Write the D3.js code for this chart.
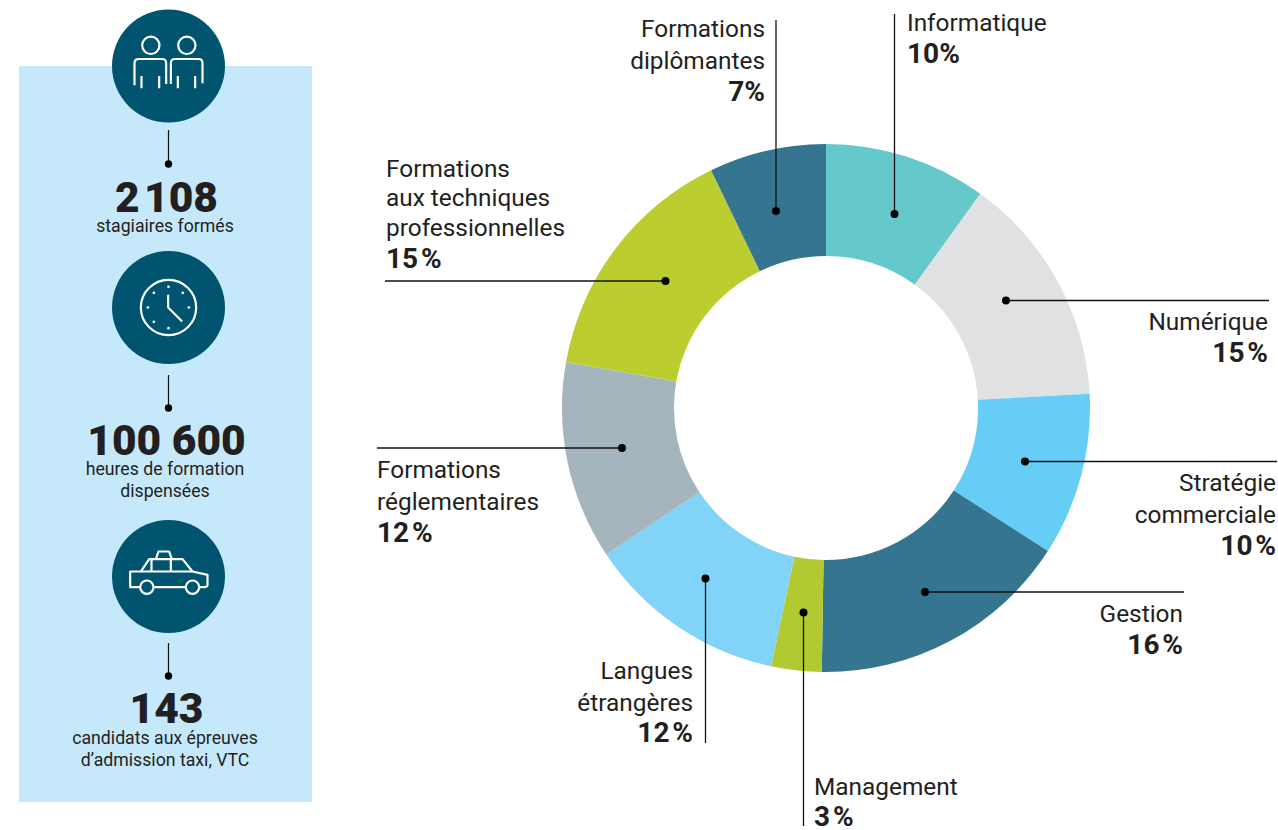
<!DOCTYPE html>
<html lang="fr">

<head>
    <meta charset="UTF-8">
    <title>Formations par domaine</title>
    <script src="https://d3js.org/d3.v7.min.js"></script>
    <style>
        body { margin: 0; background: #fff; }
        svg { display: block; }
        text { font-family: Roboto, sans-serif; fill: #231f20; }
    </style>
</head>

<body>
    <div id="chart"></div>

    <script>
        // donut data, clockwise from the top
        const categories = [
            ["Informatique"],
            ["Numérique"],
            ["Stratégie", "commerciale"],
            ["Gestion"],
            ["Management"],
            ["Langues", "étrangères"],
            ["Formations", "réglementaires"],
            ["Formations", "aux techniques", "professionnelles"],
            ["Formations", "diplômantes"]
        ];
        // slice shares as measured on the picture, the printed labels are rounded
        const values = [9.94, 14.21, 9.97, 16.14, 3.08, 12.31, 12.14, 15.05, 7.17];
        const valueLabels = ["10%", "15\u200a%", "10\u200a%", "16\u200a%", "3\u200a%", "12\u200a%", "12\u200a%", "15\u200a%", "7%"];

        // left panel figures
        const statNumbers = ["2\u200a108", "100 600", "143"];
        const statCaptions = [
            ["stagiaires formés"],
            ["heures de formation", "dispensées"],
            ["candidats aux épreuves", "d’admission taxi, VTC"]
        ];

        const sliceColors = ["#65c8cb", "#e0e1e3", "#66cef6", "#357590", "#b2c932", "#81d3f8", "#a4b5bd", "#bccd2f", "#357590"];

        // label and leader placement, same order as categories
        const labelLayout = [
            { anchor: "start", x: 907, y: [31, 63] },
            { anchor: "end", x: 1268, y: [330, 362] },
            { anchor: "end", x: 1276, y: [491, 523, 555] },
            { anchor: "end", x: 1183, y: [622, 654] },
            { anchor: "start", x: 814, y: [795, 826] },
            { anchor: "end", x: 693, y: [679, 711, 742] },
            { anchor: "start", x: 377, y: [478, 510, 542] },
            { anchor: "start", x: 386, y: [177, 206, 236, 268] },
            { anchor: "end", x: 765, y: [37, 69, 101] }
        ];
        const leaderLayout = [
            { from: [894.5, 214], to: [894.5, 14] },
            { from: [1006, 300.5], to: [1269, 300.5] },
            { from: [1025, 461.5], to: [1277, 461.5] },
            { from: [925, 592], to: [1184, 592] },
            { from: [803.5, 612.5], to: [803.5, 826] },
            { from: [705.5, 578.5], to: [705.5, 743] },
            { from: [622, 448], to: [377, 448] },
            { from: [665.5, 281], to: [385, 281] },
            { from: [776, 211], to: [776, 20] }
        ];

        const width = 1278;
        const height = 830;
        const center = [826, 408];
        const outerRadius = 264;
        const innerRadius = 152;

        const svg = d3.select("#chart")
            .append("svg")
            .attr("width", width)
            .attr("height", height);

        // left panel
        svg.append("rect")
            .attr("x", 19)
            .attr("y", 66)
            .attr("width", 293)
            .attr("height", 736)
            .attr("fill", "#c5e8fb");

        const panelX = 168.5;
        const statLayout = [
            { cy: 66, lineTop: 130, dot: 164, number: 212, caption: [232] },
            { cy: 307.5, lineTop: 375, dot: 408, number: 455, caption: [475, 497] },
            { cy: 576.5, lineTop: 643, dot: 676, number: 723, caption: [744, 766] }
        ];

        statLayout.forEach((s, i) => {
            svg.append("circle")
                .attr("cx", panelX)
                .attr("cy", s.cy)
                .attr("r", 56.5)
                .attr("fill", "#00546f");
            svg.append("line")
                .attr("x1", panelX).attr("x2", panelX)
                .attr("y1", s.lineTop).attr("y2", s.dot)
                .attr("stroke", "#111")
                .attr("stroke-width", 1.2);
            svg.append("circle")
                .attr("cx", panelX)
                .attr("cy", s.dot)
                .attr("r", 3.7)
                .attr("fill", "#000");
            svg.append("text")
                .attr("x", panelX - 2)
                .attr("y", s.number)
                .attr("text-anchor", "middle")
                .attr("font-size", 42.5)
                .attr("font-weight", 900)
                .text(statNumbers[i]);
            statCaptions[i].forEach((line, k) => {
                svg.append("text")
                    .attr("x", panelX - 3.5)
                    .attr("y", s.caption[k])
                    .attr("text-anchor", "middle")
                    .attr("font-size", 17.7)
                    .text(line);
            });
        });

        // icons, sketched at 3x and scaled down
        function iconGroup(cy, ox, oy) {
            return svg.append("g")
                .attr("transform", `translate(${panelX},${cy}) scale(${1 / 3}) translate(${-ox},${-oy})`)
                .attr("fill", "none")
                .attr("stroke", "#fff")
                .attr("stroke-width", 6.5)
                .attr("stroke-linejoin", "round");
        }

        const people = iconGroup(statLayout[0].cy, 205, 198);
        people.selectAll("circle")
            .data([152, 260])
            .join("circle")
            .attr("cx", d => d)
            .attr("cy", 136)
            .attr("r", 26);
        people.append("path").attr("d", "M103 256V190Q103 177 116 177H185Q198 177 198 190V252M124 228V265M177 228V265");
        people.append("path").attr("d", "M212 252V190Q212 177 225 177H295Q307 177 307 190V250M233 228V265M285 228V265");

        const clock = iconGroup(statLayout[1].cy, 207, 203);
        clock.append("circle").attr("cx", 207).attr("cy", 203).attr("r", 83);
        clock.append("path").attr("d", "M206 165V203L248 245");
        clock.selectAll(".tick")
            .data([[207, 141], [250, 159], [268, 203], [207, 265], [163, 246], [145, 203], [163, 159]])
            .join("circle")
            .attr("class", "tick")
            .attr("cx", d => d[0])
            .attr("cy", d => d[1])
            .attr("r", 4)
            .attr("fill", "#fff")
            .attr("stroke", "none");

        const taxi = iconGroup(statLayout[2].cy, 208, 200);
        taxi.append("path").attr("d", "M122 232H93V185H125L150 148H250L280 185L325 195V225Q325 232 315 232H302M165 232H258");
        taxi.append("path").attr("d", "M125 185H215V148M157 148V185M215 185H280M170 148L178 125H210L218 148");
        taxi.selectAll("circle")
            .data([143, 280])
            .join("circle")
            .attr("cx", d => d)
            .attr("cy", 232)
            .attr("r", 20);

        // donut
        const pie = d3.pie().sort(null).value(d => d);
        const arc = d3.arc().innerRadius(innerRadius).outerRadius(outerRadius);

        svg.append("g")
            .attr("transform", `translate(${center[0]},${center[1]})`)
            .selectAll("path")
            .data(pie(values))
            .join("path")
            .attr("d", arc)
            .attr("fill", (d, i) => sliceColors[i]);

        // leaders
        const leaders = svg.append("g");
        leaders.selectAll("line")
            .data(leaderLayout)
            .join("line")
            .attr("x1", d => d.from[0])
            .attr("y1", d => d.from[1])
            .attr("x2", d => d.to[0])
            .attr("y2", d => d.to[1])
            .attr("stroke", "#111")
            .attr("stroke-width", 1.3);
        leaders.selectAll("circle")
            .data(leaderLayout)
            .join("circle")
            .attr("cx", d => d.from[0])
            .attr("cy", d => d.from[1])
            .attr("r", 4)
            .attr("fill", "#000");

        // labels
        categories.forEach((lines, i) => {
            const l = labelLayout[i];
            lines.forEach((line, k) => {
                svg.append("text")
                    .attr("x", l.x)
                    .attr("y", l.y[k])
                    .attr("text-anchor", l.anchor)
                    .attr("font-size", 24.4)
                    .text(line);
            });
            svg.append("text")
                .attr("x", l.x)
                .attr("y", l.y[lines.length])
                .attr("text-anchor", l.anchor)
                .attr("font-size", 28)
                .attr("font-weight", 700)
                .text(valueLabels[i]);
        });
    </script>
</body>

</html>
